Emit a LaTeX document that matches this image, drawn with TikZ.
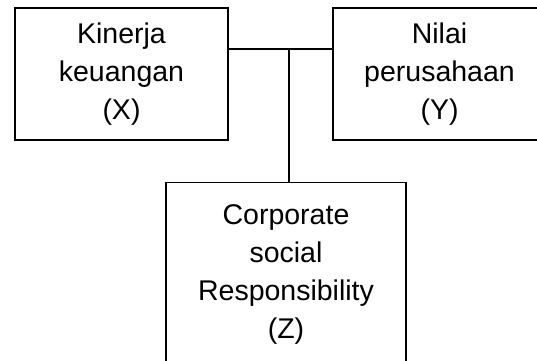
\documentclass[tikz,border=0pt]{standalone}
\usepackage{fontspec}
\setmainfont{Liberation Sans}
\usetikzlibrary{positioning}

\begin{document}
\begin{tikzpicture}[x=1pt,y=-1pt,
  varbox/.style={draw,line width=1.2pt,align=center,inner sep=0pt,
    font=\fontsize{28.5}{38}\selectfont}]
  \useasboundingbox (0,0) rectangle (537,360);
  \clip (0,0) rectangle (537,360);
  % variabel
  \node[varbox,minimum width=213pt,minimum height=132pt] (kinerja) at (121.5,74) {Kinerja\\keuangan\\(X)};
  \node[varbox,minimum width=213pt,minimum height=132pt] (nilai) at (439.5,74) {Nilai\\perusahaan\\(Y)};
  \node[varbox,minimum width=240pt,minimum height=184pt,anchor=north] (csr) at (286,182) {Corporate\\social\\Responsibility\\(Z)};
  % garis penghubung
  \coordinate (simpul) at (289,49);
  \draw[line width=1.2pt] (simpul -| kinerja.east) -- (simpul -| nilai.west);
  \draw[line width=1.2pt] (simpul) -- (simpul |- csr.north);
\end{tikzpicture}
\end{document}
